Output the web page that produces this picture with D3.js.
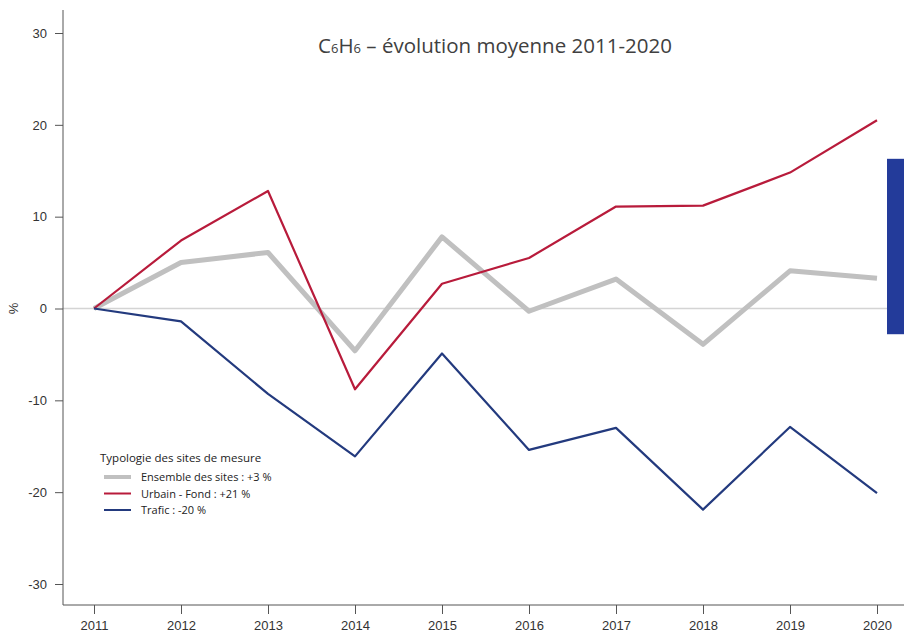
<!DOCTYPE html>
<html>
<head>
<meta charset="utf-8">
<script src="https://cdn.jsdelivr.net/npm/d3@7"></script>
<style>
  html, body { margin: 0; padding: 0; background: #fff; }
  svg { display: block; }
</style>
</head>
<body>
<svg id="chart" width="904" height="633"></svg>
<script>
// Years and series (% change relative to 2011)
const years = [2011, 2012, 2013, 2014, 2015, 2016, 2017, 2018, 2019, 2020];
const ensemble = [0, 5.0, 6.1, -4.6, 7.8, -0.3, 3.2, -3.9, 4.1, 3.3];
const urbainFond = [0, 7.4, 12.8, -8.8, 2.7, 5.5, 11.1, 11.2, 14.8, 20.5];
const trafic = [0, -1.4, -9.3, -16.1, -4.9, -15.4, -13.0, -21.9, -12.9, -20.1];
const yTicks = [-30, -20, -10, 0, 10, 20, 30];
const seriesNames = ["Ensemble des sites : +3 %", "Urbain - Fond : +21 %", "Trafic : -20 %"];
// Side bar range (from, to) in %
const sideBar = [-2.8, 16.3];

(function draw() {
  const svg = d3.select("#chart");
  const W = 904;
  const mLeft = 63, mBottom = 605, mTop = 10;

  const x = d3.scaleLinear().domain([2011, 2020]).range([94, 877]);
  const y = d3.scaleLinear().domain([-30, 30]).range([584, 33]);

  const axisColor = "#555";
  const tickFont = "Liberation Sans, Arial, sans-serif";
  const plain = d => String(d);

  // zero reference line
  svg.append("line")
    .attr("x1", mLeft).attr("x2", 887)
    .attr("y1", y(0)).attr("y2", y(0))
    .attr("stroke", "#d4d4d4").attr("stroke-width", 1.5);

  // side bar
  svg.append("rect")
    .attr("x", 887).attr("width", W - 887)
    .attr("y", y(sideBar[1])).attr("height", y(sideBar[0]) - y(sideBar[1]))
    .attr("fill", "#233b9a");

  // Y axis
  const yAxis = svg.append("g")
    .attr("transform", `translate(${mLeft},0)`)
    .call(d3.axisLeft(y).tickValues(yTicks).tickFormat(plain).tickSize(8).tickPadding(8).tickSizeOuter(0));
  yAxis.select(".domain").remove();
  yAxis.append("line").attr("x1", 0).attr("x2", 0).attr("y1", mTop).attr("y2", mBottom)
    .attr("stroke", axisColor);
  yAxis.selectAll(".tick line").attr("stroke", axisColor);
  yAxis.selectAll(".tick text").attr("fill", "#333").style("font-family", tickFont).style("font-size", "13px");

  // X axis
  const xAxis = svg.append("g")
    .attr("transform", `translate(0,${mBottom})`)
    .call(d3.axisBottom(x).tickValues(years).tickFormat(plain).tickSize(9).tickPadding(7).tickSizeOuter(0));
  xAxis.select(".domain").remove();
  xAxis.append("line").attr("x1", mLeft).attr("x2", W).attr("y1", 0).attr("y2", 0)
    .attr("stroke", axisColor);
  xAxis.selectAll(".tick line").attr("stroke", axisColor);
  xAxis.selectAll(".tick text").attr("fill", "#333").style("font-family", tickFont).style("font-size", "13px");

  // y label
  svg.append("text")
    .attr("transform", `translate(18,${y(0)}) rotate(-90)`)
    .attr("text-anchor", "middle")
    .style("font-family", tickFont).style("font-size", "13px").attr("fill", "#333")
    .text("%");

  // lines
  const line = d3.line().x((d, i) => x(years[i])).y(d => y(d));
  const styles = [
    { data: ensemble, color: "#c0c0c0", width: 5 },
    { data: urbainFond, color: "#b81b3b", width: 2.2 },
    { data: trafic, color: "#233a7e", width: 2.2 }
  ];
  styles.forEach(s => {
    svg.append("path").datum(s.data)
      .attr("d", line)
      .attr("fill", "none")
      .attr("stroke", s.color)
      .attr("stroke-width", s.width)
      .attr("stroke-linejoin", "round");
  });

  // title
  const title = svg.append("text")
    .attr("x", 495).attr("y", 53)
    .attr("text-anchor", "middle")
    .attr("fill", "#404040")
    .style("font-family", "Open Sans, sans-serif")
    .style("font-size", "20.5px");
  title.append("tspan").text("C");
  title.append("tspan").style("font-size", "13px").text("6");
  title.append("tspan").text("H");
  title.append("tspan").style("font-size", "13px").text("6");
  title.append("tspan").text(" – évolution moyenne 2011-2020");

  // legend
  const legend = svg.append("g").attr("transform", "translate(100,462)");
  legend.append("text").attr("x", 0).attr("y", 0)
    .style("font-family", "Open Sans, sans-serif").style("font-size", "11.5px").attr("fill", "#222")
    .text("Typologie des sites de mesure");
  styles.forEach((s, i) => {
    const yy = 19 + i * 16.5;
    legend.append("line")
      .attr("x1", 4).attr("x2", 31).attr("y1", yy - 4).attr("y2", yy - 4)
      .attr("stroke", s.color).attr("stroke-width", i === 0 ? 4 : 2);
    legend.append("text").attr("x", 41).attr("y", yy)
      .style("font-family", "Open Sans, sans-serif").style("font-size", "11px").attr("fill", "#222")
      .text(seriesNames[i]);
  });
})();
</script>
</body>
</html>
